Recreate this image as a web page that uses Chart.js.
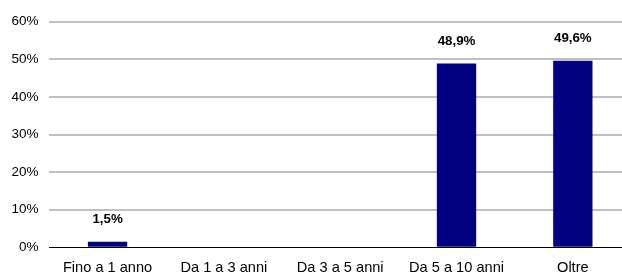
<!DOCTYPE html>
<html>
<head>
<meta charset="utf-8">
<script src="https://cdn.jsdelivr.net/npm/chart.js@4/dist/chart.umd.min.js"></script>
<style>
  html, body { margin: 0; padding: 0; background: #fff; overflow: hidden; }
  #wrap { width: 632px; height: 274px; position: relative; }
</style>
</head>
<body>
<div id="wrap"><canvas id="c"></canvas></div>
<script>
const categories = ["Fino a 1 anno", "Da 1 a 3 anni", "Da 3 a 5 anni", "Da 5 a 10 anni", "Oltre"];
const values = [1.5, 0, 0, 48.9, 49.6];
const yTicks = [0, 10, 20, 30, 40, 50, 60];

const FONT = "'Liberation Sans', Arial, sans-serif";

const labelPlugin = {
  id: 'valueLabels',
  afterDatasetsDraw(chart) {
    const ctx = chart.ctx;
    const meta = chart.getDatasetMeta(0);
    ctx.save();
    ctx.font = "bold 13.3px " + FONT;
    ctx.fillStyle = '#000';
    ctx.textAlign = 'center';
    ctx.textBaseline = 'middle';
    meta.data.forEach((bar, i) => {
      const v = values[i];
      if (!v) return;
      ctx.fillText(v.toFixed(1).replace('.', ',') + '%', bar.x, bar.y - 22);
    });
    ctx.restore();
  }
};

new Chart(document.getElementById('c'), {
  type: 'bar',
  data: {
    labels: categories,
    datasets: [{
      data: values,
      backgroundColor: '#000080',
      borderWidth: 0,
      categoryPercentage: 1,
      barPercentage: 0.338
    }]
  },
  options: {
    responsive: true,
    maintainAspectRatio: false,
    animation: false,
    layout: { padding: { top: 21.7, right: 1, left: 0, bottom: 0 } },
    plugins: { legend: { display: false }, tooltip: { enabled: false } },
    scales: {
      x: {
        grid: { display: false },
        border: { display: false },
        ticks: {
          color: '#000',
          font: { family: FONT, size: 14.6 },
          padding: 4,
          maxRotation: 0,
          autoSkip: false
        },
        afterFit(scale) { scale.height = 26.7; }
      },
      y: {
        min: 0,
        max: 60,
        afterBuildTicks(scale) { scale.ticks = yTicks.map(v => ({ value: v })); },
        grid: {
          drawTicks: false,
          color: ctx => ctx.tick && ctx.tick.value === 0 ? '#000' : '#c0c0c0',
          lineWidth: ctx => ctx.tick && ctx.tick.value === 0 ? 1 : 2
        },
        border: { display: false },
        ticks: {
          color: '#000',
          font: { family: FONT, size: 13.5 },
          padding: 11,
          callback: v => v + '%'
        },
        afterFit(scale) { scale.width = 49.4; }
      }
    }
  },
  plugins: [labelPlugin]
});
</script>
</body>
</html>
